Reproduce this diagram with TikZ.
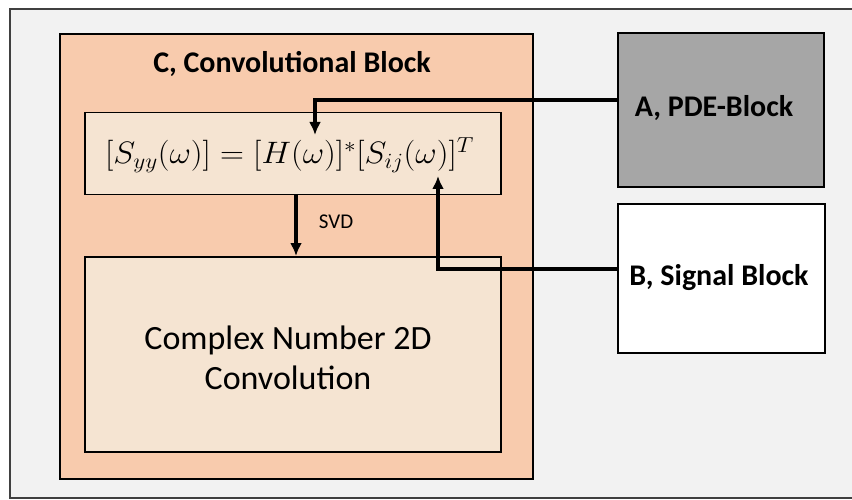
\RequirePackage{fix-cm}
\documentclass[tikz,border=0pt]{standalone}
\usepackage{fontspec}
\setmainfont{Carlito}
\usetikzlibrary{arrows.meta}
\definecolor{bgfill}{HTML}{F2F2F2}
\definecolor{convfill}{HTML}{F8CBAD}
\definecolor{innerfill}{HTML}{F5E4D2}
\definecolor{pdefill}{HTML}{A6A6A6}
\definecolor{framecol}{HTML}{404040}
\tikzset{
  blockbox/.style={draw=black, line width=2pt, inner sep=0pt},
  flow/.style={line width=4pt, -{Latex[length=13pt,width=12pt]}},
  bold title/.style={font=\fontsize{30}{36}\selectfont\bfseries},
}
\begin{document}
\begin{tikzpicture}[x=1pt,y=-1pt]
  \useasboundingbox (0,0) rectangle (852,500);
  \fill[white] (0,0) rectangle (852,500);
  % outer frame
  \filldraw[fill=bgfill, draw=framecol, line width=1.5pt] (860,9) -- (10,9) -- (10,498) -- (860,498);

  % convolutional block
  \node[blockbox, fill=convfill, minimum width=473pt, minimum height=445pt, anchor=north west] (C) at (59,33) {};
  \node[bold title] (Ctitle) at (292,64) {C, Convolutional Block};

  % equation box
  \node[blockbox, line width=1.5pt, fill=innerfill, minimum width=416pt, minimum height=82pt, anchor=north west] (eq) at (84,112) {};
  \node[font=\fontsize{31}{36}\selectfont, anchor=base] (eqtext) at (289.5,164)
    {\scalebox{1.07}[1]{$[S_{yy}(\omega)] = [H(\omega)]^{*}[S_{ij}(\omega)]^{T}$}};

  % convolution box
  \node[blockbox, line width=1.5pt, fill=innerfill, minimum width=416pt, minimum height=195pt, anchor=north west] (conv) at (84,256) {};
  \node[font=\fontsize{34}{40}\selectfont, align=center] (convtext) at (288,358) {Complex Number 2D\\Convolution};

  % PDE and signal blocks
  \node[blockbox, fill=pdefill, minimum width=206pt, minimum height=154pt, anchor=north west] (A) at (617,32) {};
  \node[bold title] (Atext) at (714,108) {A, PDE-Block};
  \node[blockbox, fill=white, minimum width=207pt, minimum height=149pt, anchor=north west] (B) at (617,203) {};
  \node[bold title] (Btext) at (719,278) {B, Signal Block};

  % connectors
  \coordinate (tipA) at (315,135);
  \coordinate (tipB) at (438,176);
  \draw[flow] (A.west |- 0,100) -| (tipA);
  \draw[flow] (B.west |- 0,269) -| (tipB);
  \draw[flow] (eq.south -| 296,0) -- (conv.north -| 296,0);
  \node[font=\fontsize{21}{25}\selectfont] (svd) at (336,222) {SVD};
\end{tikzpicture}
\end{document}
